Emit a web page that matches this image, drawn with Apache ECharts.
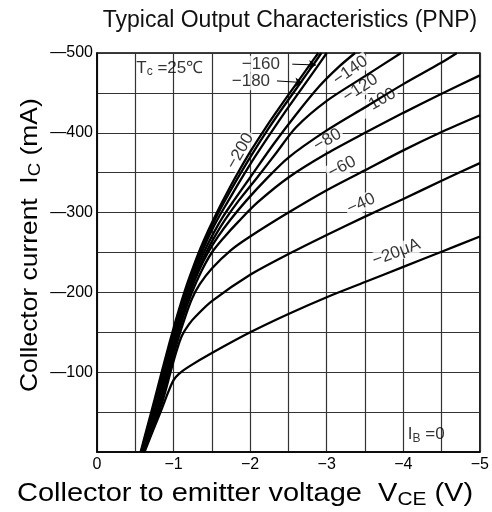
<!DOCTYPE html>
<html>
<head>
<meta charset="utf-8">
<script src="https://cdn.jsdelivr.net/npm/echarts@6/dist/echarts.min.js"></script>
<style>
html, body { margin: 0; padding: 0; background: #fff; }
#chart { width: 492px; height: 512px; }
</style>
</head>
<body>
<div id="chart"></div>
<script>
// base current of each curve (uA)
var baseCurrents = ['-20', '-40', '-60', '-80', '-100', '-120', '-140', '-160', '-180', '-200'];

// [V_CE (V), I_C (mA)]
var ib20 = [[-0.62, 0], [-0.74, -29], [-0.85, -55], [-0.93, -75], [-1.0, -90], [-1.07, -98], [-1.2, -107], [-1.5, -124], [-2.0, -150], [-2.5, -173], [-3.0, -194], [-3.5, -213], [-4.0, -232], [-4.5, -251], [-5.0, -270]];
var ib40 = [[-0.61, 0], [-0.73, -29], [-0.86, -65], [-0.96, -100], [-1.04, -127], [-1.11, -146], [-1.2, -160], [-1.3, -171], [-1.5, -189], [-2.0, -222], [-2.5, -248], [-3.0, -272], [-3.5, -295], [-4.0, -317], [-4.5, -340], [-5.0, -362]];
var ib60 = [[-0.6, 0], [-0.72, -29], [-0.845, -65], [-0.945, -102], [-1.045, -137], [-1.14, -166], [-1.24, -192], [-1.34, -210], [-1.5, -230], [-1.75, -253], [-2.0, -270], [-2.5, -300], [-3.0, -328], [-3.5, -353], [-4.0, -378], [-4.5, -401], [-5.0, -422]];
var ib80 = [[-0.6, 0], [-0.71, -29], [-0.83, -65], [-0.93, -102], [-1.03, -138], [-1.13, -171], [-1.24, -200], [-1.36, -226], [-1.5, -250], [-1.65, -268], [-1.85, -289], [-2.1, -313], [-2.5, -344], [-3.0, -374], [-3.5, -400], [-4.0, -425], [-4.5, -449], [-5.0, -472]];
var ib100 = [[-0.595, 0], [-0.7, -29], [-0.82, -65], [-0.92, -102], [-1.02, -138], [-1.12, -172], [-1.22, -201], [-1.33, -227], [-1.45, -250], [-1.58, -270], [-1.75, -292], [-1.95, -315], [-2.2, -341], [-2.5, -369], [-3.0, -403], [-3.5, -432], [-4.0, -461], [-4.5, -488], [-4.7, -500]];
var ib120 = [[-0.59, 0], [-0.69, -29], [-0.81, -65], [-0.91, -102], [-1.01, -138], [-1.11, -172], [-1.21, -202], [-1.32, -228], [-1.43, -251], [-1.55, -272], [-1.68, -292], [-1.85, -315], [-2.1, -345], [-2.35, -376], [-2.6, -407], [-3.0, -440], [-3.5, -471], [-3.97, -500]];
var ib140 = [[-0.585, 0], [-0.68, -29], [-0.795, -65], [-0.895, -102], [-0.995, -138], [-1.095, -172], [-1.2, -203], [-1.3, -229], [-1.41, -253], [-1.52, -274], [-1.64, -294], [-1.78, -314], [-2.0, -344], [-2.3, -385], [-2.6, -423], [-2.9, -458], [-3.15, -482], [-3.37, -500]];
var ib160 = [[-0.58, 0], [-0.67, -29], [-0.78, -65], [-0.88, -102], [-0.98, -138], [-1.08, -172], [-1.18, -203], [-1.28, -230], [-1.39, -255], [-1.49, -276], [-1.6, -296], [-1.71, -314], [-1.87, -340], [-2.07, -371], [-2.27, -400], [-2.47, -428], [-2.67, -455], [-2.87, -482], [-3.0, -500]];
var ib180 = [[-0.575, 0], [-0.66, -29], [-0.765, -65], [-0.865, -102], [-0.965, -138], [-1.065, -172], [-1.165, -203], [-1.265, -230], [-1.37, -255], [-1.47, -277], [-1.57, -297], [-1.67, -315], [-1.83, -342], [-2.03, -374], [-2.23, -404], [-2.43, -432], [-2.63, -459], [-2.83, -486], [-2.93, -500]];
var ib200 = [[-0.57, 0], [-0.65, -29], [-0.75, -65], [-0.85, -102], [-0.95, -138], [-1.05, -172], [-1.15, -203], [-1.25, -230], [-1.35, -255], [-1.45, -277], [-1.55, -297], [-1.65, -316], [-1.8, -343], [-2.0, -376], [-2.2, -406], [-2.4, -434], [-2.6, -461], [-2.8, -488], [-2.89, -500]];
var curves = [ib20, ib40, ib60, ib80, ib100, ib120, ib140, ib160, ib180, ib200];

// tick labels
var xTicks = [0, -1, -2, -3, -4, -5];
var yTicks = [-100, -200, -300, -400, -500];

// curve labels: text, then V, I, angle
var curveTexts = ['−20μA', '−40', '−60', '−80', '−100', '−120', '−140', '−160', '−180', '−200'];
var curveSpots = [[-3.91, -250, 21], [-3.45, -311, 25], [-3.2, -357, 28], [-3.01, -391, 30], [-3.67, -439, 30], [-3.44, -456, 33], [-3.31, -478, 35], [-2.14, -486, 0], [-2.01, -464, 0], [-1.87, -377, 60]];
// notes: text, then V, I
var noteTexts = ['T{s|c} =25℃', 'I{s|B} =0'];
var noteSpots = [[-0.95, -481], [-4.3, -22]];
var arrows = [[[-2.55, -486], [-2.86, -485]], [[-2.35, -465], [-2.68, -463]]];

var FONT = 'Liberation Sans';

var chart = echarts.init(document.getElementById('chart'), null, { renderer: 'canvas' });

var series = curves.map(function (c, i) {
    return {
        name: baseCurrents[i],
        type: 'line',
        data: c,
        showSymbol: false,
        smooth: 0.3,
        lineStyle: { color: '#000', width: 2.3 },
        silent: true,
        z: 3
    };
});

// curve labels sit on a white patch that hides the grid behind them
series.push({
    type: 'scatter',
    symbolSize: 0,
    silent: true,
    z: 2,
    data: curveSpots.map(function (s, i) {
        return {
            value: [s[0], s[1]],
            label: { formatter: curveTexts[i], rotate: s[2] }
        };
    }),
    label: {
        show: true,
        position: 'inside',
        color: '#000',
        fontFamily: FONT,
        fontSize: 17,
        backgroundColor: '#fff',
        padding: [0, 2]
    },
    markLine: {
        silent: true,
        symbol: ['none', 'arrow'],
        symbolSize: 7,
        label: { show: false },
        lineStyle: { color: '#000', width: 1, type: 'solid' },
        data: arrows.map(function (a) {
            return [{ coord: a[0] }, { coord: a[1] }];
        })
    }
});

series.push({
    type: 'scatter',
    symbolSize: 0,
    silent: true,
    z: 5,
    data: noteSpots.map(function (s, i) {
        return { value: s, label: { formatter: noteTexts[i] } };
    }),
    label: {
        show: true,
        position: 'inside',
        color: '#000',
        fontFamily: FONT,
        fontSize: 17,
        rich: {
            s: { fontSize: 12, verticalAlign: 'bottom', padding: [8, 0, 0, 0], fontFamily: FONT, color: '#000' }
        }
    }
});

var option = {
    animation: false,
    backgroundColor: '#fff',
    title: {
        text: 'Typical Output Characteristics (PNP)',
        left: 285,
        top: 4,
        textAlign: 'center',
        textStyle: { fontFamily: FONT, fontSize: 23, fontWeight: 'normal', color: '#111' }
    },
    grid: {
        left: 97, right: 5, top: 53, bottom: 60,
        show: true, borderColor: '#000', borderWidth: 1.5
    },
    xAxis: {
        type: 'value',
        min: -5, max: 0, interval: 0.5,
        inverse: true,
        axisLine: { show: true, lineStyle: { color: '#000', width: 1.5 } },
        axisTick: { show: false },
        splitLine: { show: true, lineStyle: { color: '#333', width: 1.2 } },
        axisLabel: {
            margin: 5,
            color: '#000',
            fontFamily: FONT,
            fontSize: 16,
            formatter: function (v) {
                if (xTicks.indexOf(v) < 0) return '';
                return v === 0 ? '0' : '−' + Math.abs(v);
            }
        }
    },
    yAxis: {
        type: 'value',
        min: -500, max: 0, interval: 50,
        inverse: true,
        axisLine: { show: true, lineStyle: { color: '#000', width: 1.5 } },
        axisTick: { show: false },
        splitLine: { show: true, lineStyle: { color: '#333', width: 1.2 } },
        axisLabel: {
            margin: 4,
            color: '#000',
            fontFamily: FONT,
            fontSize: 16,
            formatter: function (v) {
                return yTicks.indexOf(v) < 0 ? '' : '—' + Math.abs(v);
            }
        }
    },
    graphic: [
        {
            type: 'text',
            x: 17, y: 479,
            scaleX: 1.16,
            style: {
                text: 'Collector to emitter voltage  V{s|CE} (V)',
                fontFamily: FONT, fontSize: 25, fill: '#000',
                rich: { s: { fontSize: 18, fontFamily: FONT, verticalAlign: 'bottom', padding: [12, 0, 0, 0] } }
            }
        },
        {
            type: 'text',
            x: 16, y: 392,
            rotation: Math.PI / 2,
            scaleX: 1.1,
            style: {
                text: 'Collector current  I{s|C} (mA)',
                fontFamily: FONT, fontSize: 24, fill: '#000',
                rich: { s: { fontSize: 17, fontFamily: FONT, verticalAlign: 'bottom', padding: [11, 0, 0, 0] } }
            }
        }
    ],
    series: series
};

chart.setOption(option);
</script>
</body>
</html>
